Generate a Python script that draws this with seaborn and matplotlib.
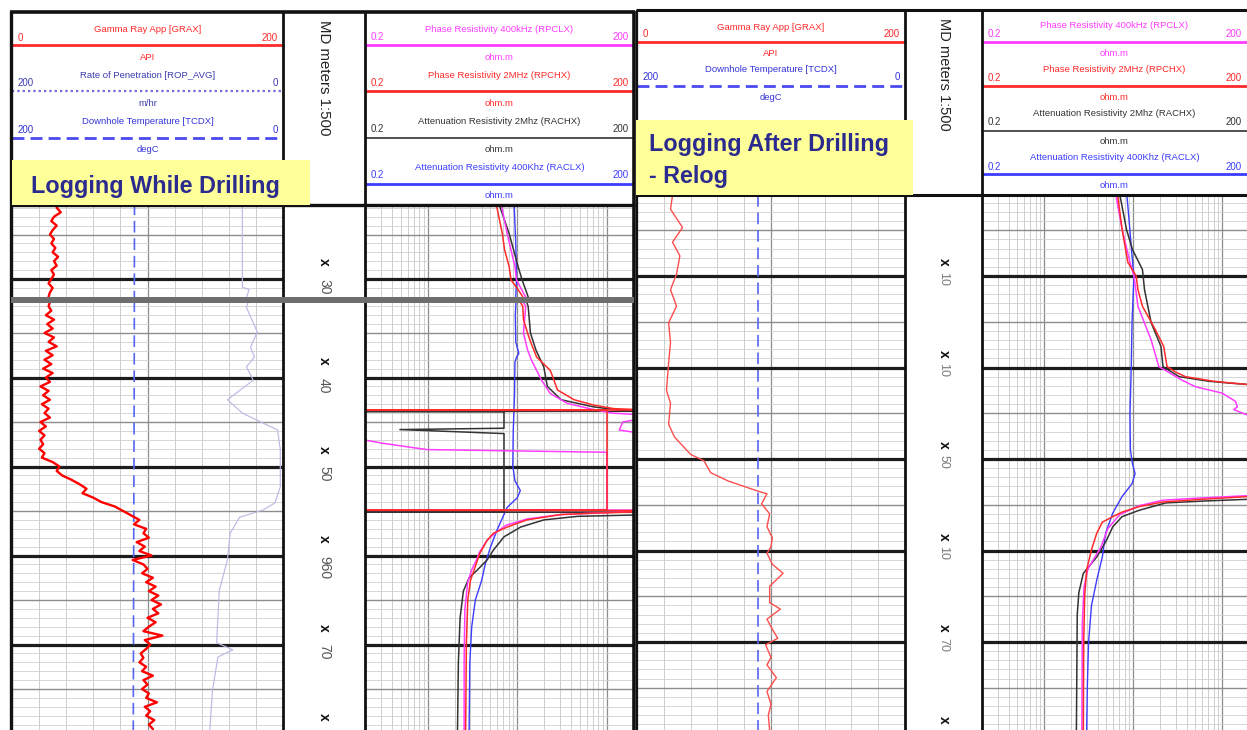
import numpy as np
import pandas as pd
import matplotlib.pyplot as plt
import seaborn as sns
from matplotlib.patches import Rectangle

# ---------------------------------------------------------------
# Values (depth in m, curves in track units)
# ---------------------------------------------------------------

# Logging While Drilling - gamma ray, one sample every 0.5 m from 921.5 m
GR_LWD_TOP = 921.5
gr_lwd = [35, 33, 36, 31, 29, 33, 30, 28, 31, 29, 32, 30, 34, 31, 33, 29, 31, 29, 27, 30, 28, 27,
          29, 25, 31, 26, 30, 24, 31, 27, 33, 25, 30, 24, 29, 23, 30, 25, 28, 21, 27, 23, 28, 22,
          27, 24, 28, 21, 25, 20, 24, 21, 23, 20, 24, 22, 30, 35,
          33, 37, 44, 50, 55, 52, 60, 66, 76, 82, 88, 94, 90, 99, 97, 101, 92, 98, 94, 103,
          89, 97, 100, 96, 104, 99, 106, 101, 108, 103, 110, 104, 108, 100, 106, 101, 97, 111, 98, 102,
          99, 95, 97, 94, 99, 96, 104, 97, 100, 96, 101, 99, 107, 98, 102, 99, 105, 101, 104]

rop_depth = [921.9, 930.9, 931.2, 932.1, 934.9, 936.6, 937.7, 938.8, 940.3, 942.5, 944.0, 945.1, 945.9,
             948.1, 952.3, 954.1, 954.9, 955.7, 957.5, 960.5, 963.9, 969.8, 970.6, 971.4, 975.1, 979.6]
rop_avg = [30, 30, 25, 27, 19, 24, 21, 27, 22, 41, 30, 15, 4, 2, 2, 6, 15, 32, 39, 41, 47, 49, 37, 48, 52, 54]

tcdx_lwd_depth = [921.5, 940.0, 960.0, 979.7]
tcdx_lwd = [109.6, 109.8, 110.2, 110.5]

rpclx_lwd_depth = [921.9, 924.9, 928.6, 930.1, 931.6, 932.0, 935.0, 936.9, 938.0, 940.3,
                   941.8, 942.9, 943.5, 944.0, 944.2, 944.6, 945.0, 945.9, 946.3, np.nan,
                   946.8, 947.4, 948.1, 948.4, 954.85, 954.88, 954.9, 955.05, 955.4, 955.9,
                   956.6, 957.5, 958.3, 959.6, 960.5, 961.6, 963.0, 966.0, 972.0, 979.7]
rpclx_lwd = [6.7, 7.7, 9.4, 9.8, 11.7, 12.4, 11.7, 13.0, 14.3, 18.6,
             23.3, 36.0, 64, 113, 250, 250, 150, 137, 250, np.nan,
             0.15, 0.32, 0.98, 100, 100, 0.15, 300, 200, 30.5, 12.8,
             7.5, 5.6, 4.6, 3.8, 3.5, 3.1, 2.8, 2.6, 2.55, 2.55]

rpchx_lwd_depth = [921.9, 924.9, 926.7, 928.6, 930.1, 931.2, 932.0, 933.5, 935.0, 936.2,
                   937.7, 939.2, 940.3, 941.4, 942.5, 943.1, 943.5, 943.65, 943.66, 943.7,
                   954.9, 954.92, 954.95, 955.1, 955.25, 955.4, 956.0, 956.8, 957.5, 958.3,
                   959.8, 960.5, 961.6, 962.8, 965.0, 970.0, 979.7]
rpchx_lwd = [5.9, 6.8, 7.2, 8.1, 8.5, 10.2, 11.5, 11.7, 13.0, 14.3,
             16.4, 23.3, 25.6, 28, 43, 71, 119, 300, 0.15, 100,
             100, 0.15, 300, 200, 70, 30.5, 12.8, 7.7, 5.4, 4.6,
             3.8, 3.6, 3.3, 3.0, 2.8, 2.7, 2.65]

rachx_lwd_depth = [921.9, 924.9, 928.6, 930.1, 932.0, 935.0, 936.9, 938.8, 941.0, 942.5,
                   943.3, 943.7, 943.8, 943.82, 943.85, 945.7, 945.85, 946.3, 955.1, 955.12,
                   955.15, 955.45, 955.6, 956.0, 956.8, 957.9, 959.4, 960.5, 961.6, 962.5,
                   964.0, 967.0, 972.0, 979.7]
rachx_lwd = [6.4, 8.1, 10.2, 11.3, 13.2, 14.0, 16.1, 19.7, 21.6, 30.8,
             71, 147, 300, 0.15, 7.1, 7.1, 0.49, 7.1, 7.1, 0.15,
             300, 200, 46.9, 19.8, 10.9, 7.1, 5.4, 4.6, 3.6, 2.9,
             2.5, 2.3, 2.2, 2.15]

raclx_lwd_depth = [921.5, 926.0, 930.0, 933.0, 936.0, 937.3, 937.7, 938.3, 942.0, 946.0, 949.9, 951.6,
                   952.7, 953.5, 954.6, 957.2, 959.1, 960.9, 962.8, 965.0, 968.0, 972.0, 979.7]
raclx_lwd = [9.2, 9.6, 9.8, 9.5, 9.6, 10.4, 9.8, 9.4, 9.3, 9.0, 8.9, 9.4,
             10.8, 10.0, 7.7, 5.9, 5.0, 4.4, 4.0, 3.4, 3.1, 2.95, 2.9]

# Logging After Drilling - Relog
gr_relog_depth = [921.2, 922.7, 924.7, 926.3, 927.8, 929.8, 931.5, 933.3, 935.1, 937.3,
                  939.5, 942.5, 943.9, 946.2, 947.6, 949.5, 950.2, 951.5, 952.4, 953.5,
                  953.8, 954.9, 956.0, 957.4, 958.6, 959.6, 960.3, 961.5, 962.5, 963.9,
                  965.7, 966.4, 967.5, 968.6, 969.6, 970.3, 971.7, 972.5, 973.9, 975.4,
                  976.8, 978.0, 979.7]
gr_relog = [26.5, 25, 34, 26.5, 32, 29.5, 25, 29.5, 23.6, 25,
            23.6, 22, 25, 23.6, 28, 40, 50, 55, 68, 90,
            97, 93, 99, 97, 101, 100, 97, 101, 109, 99,
            99, 107, 97, 101, 105, 96, 100, 97, 104, 97,
            100, 98, 99]

tcdx_relog_depth = [921.1, 979.7]
tcdx_relog = [110.0, 110.0]

rpclx_relog_depth = [921.2, 924.9, 928.5, 930.0, 933.3, 937.0, 939.9, 941.4, 942.1, 942.8,
                     943.7, 944.3, 944.6, 945.0, 945.4, 945.6, 953.8, 954.0, 954.25, 954.5,
                     955.1, 956.1, 957.6, 959.7, 962.0, 964.0, 968.0, 979.7]
rpclx_relog = [6.4, 7.5, 9.2, 10.2, 11.3, 15.9, 19.4, 35.6, 50, 100,
               141, 148, 135, 170, 220, 400, 400, 200, 60, 21.6,
               11.7, 7.0, 5.2, 4.3, 3.1, 2.8, 2.68, 2.65]

rpchx_relog_depth = [921.2, 924.9, 928.5, 930.0, 931.5, 933.3, 935.9, 937.7, 939.9, 940.5,
                     941.0, 941.5, 941.7, 941.9, 942.1, 953.9, 954.1, 954.4, 954.7, 955.2,
                     955.8, 956.3, 956.9, 958.1, 959.9, 962.1, 965.0, 970.0, 979.7]
rpchx_relog = [6.7, 7.5, 8.7, 10.8, 11.3, 12.7, 17.8, 22, 24, 30,
               38.6, 80, 128, 220, 400, 400, 200, 60, 21.6, 11.7,
               7.5, 5.9, 4.5, 3.9, 3.4, 3.0, 2.85, 2.78, 2.75]

rachx_relog_depth = [921.2, 924.9, 927.1, 929.3, 931.5, 935.1, 937.7, 939.9, 941.0, 941.5,
                     941.7, 941.9, 942.1, 954.0, 954.4, 954.6, 954.8, 955.6, 956.3, 957.4,
                     958.9, 960.7, 962.5, 964.6, 967.0, 979.7]
rachx_relog = [7.1, 8.4, 9.8, 12.7, 13.4, 15.9, 20.5, 21.6, 32.8, 70,
               120, 220, 400, 400, 200, 60, 23.2, 11.7, 7.5, 5.9,
               5.0, 3.9, 2.75, 2.45, 2.35, 2.3]

raclx_relog_depth = [921.2, 924.0, 927.8, 930.0, 935.0, 940.0, 945.0, 949.0, 950.5, 951.6,
                     952.7, 954.1, 955.9, 958.1, 960.7, 963.2, 966.0, 970.0, 975.0, 979.7]
raclx_relog = [8.5, 9.0, 9.7, 10.2, 9.7, 9.5, 9.2, 9.3, 9.8, 10.5,
               9.7, 7.5, 5.9, 4.9, 4.5, 3.9, 3.4, 3.15, 3.05, 3.0]

# header texts
lwd_track1_titles = ["Gamma Ray App [GRAX]", "Rate of Penetration [ROP_AVG]", "Downhole Temperature [TCDX]"]
lwd_track1_units = ["API", "m/hr", "degC"]
lwd_track1_scales = [("0", "200"), ("200", "0"), ("200", "0")]
relog_track1_titles = ["Gamma Ray App [GRAX]", "Downhole Temperature [TCDX]"]
relog_track1_units = ["API", "degC"]
relog_track1_scales = [("0", "200"), ("200", "0")]
res_titles = ["Phase Resistivity 400kHz (RPCLX)", "Phase Resistivity 2MHz (RPCHX)",
              "Attenuation Resistivity 2Mhz (RACHX)", "Attenuation Resistivity 400Khz (RACLX)"]
res_units = ["ohm.m", "ohm.m", "ohm.m", "ohm.m"]
res_scales = [("0.2", "200")] * 4

# depth column labels
lwd_depth_marks = [930, 940, 950, 960, 970, 980]
lwd_depth_text = ["30", "40", "50", "960", "70", ""]
relog_depth_marks = [930, 940, 950, 960, 970, 980]
relog_depth_text = ["10", "10", "50", "10", "70", ""]

# ---------------------------------------------------------------
W, H = 1247, 730
sns.set_theme(style="white")
plt.rcParams['font.family'] = ['Liberation Sans', 'DejaVu Sans']

fig = plt.figure(figsize=(W / 100, H / 100), dpi=100)

RED = "#ff2a2a"
MAGENTA = "#ff3cff"
BLACK = "#333333"
BLUE = "#3c3cff"
NAVY = "#2b2b8f"


def px_axes(x0, y0, x1, y1):
    return fig.add_axes([x0 / W, 1 - y1 / H, (x1 - x0) / W, (y1 - y0) / H])


def to_depth(y, anchor):
    ya, da, scale = anchor
    return da + (y - ya) / scale


def curve(ax, depth, values, color, lw, **kw):
    df = pd.DataFrame({"depth": depth, "value": values})
    ok = df["value"].notna() & df["depth"].notna()
    pieces = (~ok).cumsum()
    for _, seg in df[ok].groupby(pieces[ok]):
        sns.lineplot(data=seg, x="value", y="depth", orient="y", sort=False, estimator=None,
                     color=color, linewidth=lw, ax=ax, **kw)


def depth_grid(ax, dtop, dbot):
    for d in range(int(np.ceil(dtop)), int(np.floor(dbot)) + 1):
        if d % 10 == 0:
            ax.axhline(d, color="#1c1c1c", linewidth=2.3, zorder=1.5)
        elif d % 5 == 0:
            ax.axhline(d, color="#8c8c8c", linewidth=1.0, zorder=1)
        else:
            ax.axhline(d, color="#d0d0d0", linewidth=0.6, zorder=1)


def build_section(xs, y0, y1, anchor):
    dtop, dbot = to_depth(y0, anchor), to_depth(y1, anchor)
    gr = px_axes(xs[0], y0, xs[1], y1)
    md = px_axes(xs[1], y0, xs[2], y1)
    rs = px_axes(xs[2], y0, xs[3], y1)
    rs.set_xscale("log")
    for v in range(20, 200, 20):
        gr.axvline(v, color="#8c8c8c" if v == 100 else "#c6c6c6",
                   linewidth=0.9 if v == 100 else 0.6, zorder=1)
    for dec in (0.1, 1, 10, 100):
        for m in range(1, 10):
            v = dec * m
            if 0.21 < v < 199:
                rs.axvline(v, color="#8c8c8c" if m == 1 else "#c6c6c6",
                           linewidth=0.9 if m == 1 else 0.6, zorder=1)
    depth_grid(gr, dtop, dbot)
    depth_grid(rs, dtop, dbot)
    return gr, md, rs, dtop, dbot


def finish(axes, dtop, dbot):
    gr, md, rs = axes
    gr.set_xlim(0, 200)
    rs.set_xlim(0.2, 200)
    md.set_xlim(0, 1)
    for ax in axes:
        ax.set_ylim(dbot, dtop)
        ax.set_axis_off()


def depth_labels(md, marks, texts, dtop, dbot, x_off, n_off, ncolor, nsize):
    for d, t in zip(marks, texts):
        # only the labels that fall inside this section of the column
        if not (dtop - 1 < d < dbot + 3):
            continue
        md.text(0.5, d - x_off, "x", rotation=270, ha="center", va="center",
                fontsize=10, fontweight="bold", color="#111111", clip_on=True)
        if t:
            md.text(0.5, d - n_off, t, rotation=270, ha="center", va="top",
                    fontsize=nsize, color=ncolor, clip_on=True)


# ---------------- Logging While Drilling panel ----------------
lwd_xs = [12, 283, 365, 634]
lwd_sections = [(205, 297, (279.0, 930.0, 8.9)), (303, 730, (466.5, 950.0, 8.9))]
gr_lwd_depth = GR_LWD_TOP + 0.5 * np.arange(len(gr_lwd))

for y0, y1, anchor in lwd_sections:
    gr, md, rs, dtop, dbot = build_section(lwd_xs, y0, y1, anchor)
    curve(gr, rop_depth, [200 - v for v in rop_avg], "#babae6", 0.85)
    curve(gr, tcdx_lwd_depth, [200 - v for v in tcdx_lwd], "#5566f0", 1.2, linestyle=(0, (7, 3.5)))
    curve(gr, gr_lwd_depth, gr_lwd, "#ff0000", 1.7)
    curve(rs, raclx_lwd_depth, raclx_lwd, BLUE, 1.0)
    curve(rs, rachx_lwd_depth, rachx_lwd, BLACK, 1.1)
    curve(rs, rpclx_lwd_depth, rpclx_lwd, MAGENTA, 1.1)
    curve(rs, rpchx_lwd_depth, rpchx_lwd, RED, 1.1)
    depth_labels(md, lwd_depth_marks, lwd_depth_text, dtop, dbot, 1.9, 0.0, "#555555", 10)
    finish((gr, md, rs), dtop, dbot)

# ---------------- Relog panel ----------------
relog_xs = [637, 905, 982, 1249]
gr, md, rs, dtop, dbot = build_section(relog_xs, 195, 730, (459.0, 950.0, 9.15))
curve(gr, tcdx_relog_depth, [200 - v for v in tcdx_relog], "#5566f0", 1.2, linestyle=(0, (7, 3.5)))
curve(gr, gr_relog_depth, gr_relog, "#ff4d4d", 1.0)
curve(rs, raclx_relog_depth, raclx_relog, BLUE, 1.0)
curve(rs, rachx_relog_depth, rachx_relog, BLACK, 1.1)
curve(rs, rpclx_relog_depth, rpclx_relog, MAGENTA, 1.1)
curve(rs, rpchx_relog_depth, rpchx_relog, RED, 1.1)
depth_labels(md, relog_depth_marks, relog_depth_text, dtop, dbot, 1.5, 0.45, "#7a7a7a", 9)
finish((gr, md, rs), dtop, dbot)

# ---------------- overlay: headers, borders ----------------
ov = fig.add_axes([0, 0, 1, 1])
ov.set_xlim(0, W)
ov.set_ylim(H, 0)
ov.set_axis_off()
ov.patch.set_alpha(0)


def hline(x0, x1, y, color="#111111", lw=2.2, ls="-"):
    ov.plot([x0, x1], [y, y], color=color, linewidth=lw, linestyle=ls, solid_capstyle="butt")


def vline(x, y0, y1, color="#111111", lw=2.2):
    ov.plot([x, x], [y0, y1], color=color, linewidth=lw, solid_capstyle="butt")


def header(x0, x1, titles, units, scales, colors, strokes, rows):
    cx = (x0 + x1) / 2
    for title, unit, (lo, hi), color, (lcol, lstyle, lw), (ty, sy, ly, uy) in zip(
            titles, units, scales, colors, strokes, rows):
        ov.text(cx, ty, title, color=color, fontsize=6.8, ha="center", va="center")
        ov.text(x0 + 6, sy, lo, color=color, fontsize=7, ha="left", va="center")
        ov.text(x1 - 5, sy, hi, color=color, fontsize=7, ha="right", va="center")
        hline(x0, x1, ly, color=lcol, lw=lw, ls=lstyle)
        ov.text(cx, uy, unit, color=color, fontsize=6.8, ha="center", va="center")


dotted = (0, (1, 1.4))
dashed = (0, (4.3, 2.2))

header(lwd_xs[0], lwd_xs[1], lwd_track1_titles, lwd_track1_units, lwd_track1_scales,
       [RED, "#3c3cb0", "#3434d8"],
       [(RED, "-", 2), ("#6a6ad8", dotted, 1.6), ("#4a4af0", dashed, 2)],
       [(29, 38, 45, 57), (75, 83, 91, 104), (122, 130, 138, 150)])
header(lwd_xs[2], lwd_xs[3], res_titles, res_units, res_scales,
       [MAGENTA, RED, BLACK, BLUE],
       [(MAGENTA, "-", 2), (RED, "-", 2), (BLACK, "-", 1.2), (BLUE, "-", 2)],
       [(29, 37, 45, 58), (75, 83, 91, 104), (121, 129, 138, 150), (167, 175, 184, 196)])
header(relog_xs[0], relog_xs[1], relog_track1_titles, relog_track1_units, relog_track1_scales,
       [RED, "#3434d8"],
       [(RED, "-", 2), ("#4a4af0", dashed, 2)],
       [(27, 34, 42, 53), (70, 77, 86, 98)])
header(relog_xs[2], 1247, res_titles, res_units, res_scales,
       [MAGENTA, RED, BLACK, BLUE],
       [(MAGENTA, "-", 2), (RED, "-", 2), (BLACK, "-", 1.2), (BLUE, "-", 2)],
       [(26, 34, 42, 53), (69, 78, 86, 98), (114, 122, 131, 142), (158, 167, 174, 186)])

ov.text(324, 78, "MD meters 1:500", rotation=270, ha="center", va="center", fontsize=10.8, color="#222222")
ov.text(943.5, 74, "MD meters 1:500", rotation=270, ha="center", va="center", fontsize=10.5, color="#222222")

# left panel frame
hline(10, 635, 12, lw=2.6)
hline(10, 635, 205, lw=2.4)
vline(11, 11, 730, lw=2.4)
for x in lwd_xs[1:3]:
    vline(x, 12, 730, lw=2.0)
vline(634, 11, 730, lw=2.6)
ov.add_patch(Rectangle((11, 297), 623, 6, facecolor="#6e6e6e", edgecolor="none", zorder=4))

# right panel frame
hline(636, 1247, 10, lw=2.2)
hline(636, 1247, 195, lw=2.2)
vline(637, 10, 730, lw=1.6)
for x in relog_xs[1:3]:
    vline(x, 10, 730, lw=2.0)

# yellow call-outs
ov.add_patch(Rectangle((12, 160), 298, 45, facecolor="#ffff99", edgecolor="none", zorder=5))
ov.text(31, 187, "Logging While Drilling", fontsize=16.8, fontweight="bold", color=NAVY,
        ha="left", va="center", zorder=6)
ov.add_patch(Rectangle((636, 120), 277, 75, facecolor="#ffff99", edgecolor="none", zorder=5))
ov.text(649, 145, "Logging After Drilling", fontsize=16.8, fontweight="bold", color=NAVY,
        ha="left", va="center", zorder=6)
ov.text(649, 176, "- Relog", fontsize=16.8, fontweight="bold", color=NAVY,
        ha="left", va="center", zorder=6)

fig.savefig("out.png", dpi=100)
